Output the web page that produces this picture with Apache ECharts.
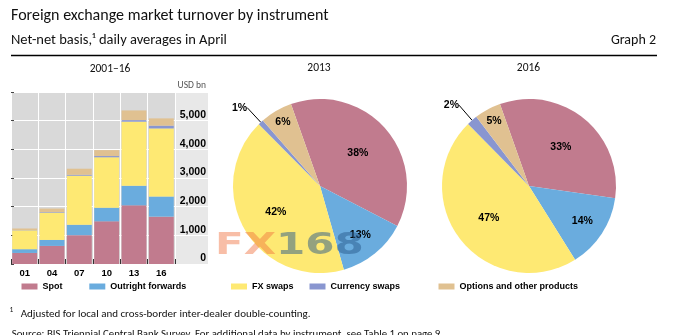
<!DOCTYPE html>
<html><head><meta charset="utf-8">
<script src="https://cdn.jsdelivr.net/npm/echarts@6/dist/echarts.min.js"></script>
<style>html,body{margin:0;padding:0;background:#fff}#c{width:674px;height:335px}</style>
</head><body><div id="c"></div>
<script>
// ---- data ----
const years = ['01', '04', '07', '10', '13', '16'];
const instruments = ['Spot', 'Outright forwards', 'FX swaps', 'Currency swaps', 'Options and other products'];
const spot = [386, 631, 1005, 1489, 2047, 1652];
const forwards = [130, 209, 362, 475, 679, 700];
const fxSwaps = [656, 954, 1714, 1759, 2240, 2378];
const currencySwaps = [7, 21, 31, 43, 54, 96];
const optionsOther = [60, 119, 212, 207, 337, 254];
const share2013 = [38, 13, 42, 1, 6];
const share2016 = [33, 14, 47, 2, 5];
const yMax = 6000;
const yStep = 1000;

// ---- styles ----
const colors = ['#C17B8E', '#6AACDE', '#FEE973', '#8996D0', '#E0C191'];
const SANS = 'Carlito, Lato, sans-serif';
const BOLD = '"Liberation Sans", Arial, sans-serif';
const legendLeft = [21.5, 89.3, 231, 309.5, 438.5];
const pieLabelReach = [1.08, 1.37, 1.1, 1, 1.58];
const barValues = [spot, forwards, fxSwaps, currencySwaps, optionsOther];

const chart = echarts.init(document.getElementById('c'), null, {renderer: 'canvas'});

function pieSeries(shares, cx, cy) {
  return {
    type: 'pie', center: [cx, cy], radius: 87, startAngle: 109.5, clockwise: true,
    avoidLabelOverlap: false, silent: true,
    data: instruments.map((n, i) => ({
      name: n, value: shares[i], itemStyle: {color: colors[i], borderWidth: 0},
      label: i === 3 ? {position: 'outside', distanceToLabelLine: 0} : undefined,
      labelLine: i === 3 ? {show: true, length: 20, length2: 0, smooth: false, lineStyle: {color: '#000', width: 1}} : {show: false}
    })),
    label: {show: true, position: 'inside', formatter: '{c}%', color: '#000',
      fontFamily: BOLD, fontWeight: 'bold', fontSize: 10.5},
    labelLayout: function (p) {
      const k = pieLabelReach[p.dataIndex];
      if (k === 1) return {};
      const lx = p.labelRect.x + p.labelRect.width / 2;
      const ly = p.labelRect.y + p.labelRect.height / 2;
      return {dx: (lx - cx) * (k - 1), dy: (ly - cy) * (k - 1)};
    }
  };
}

const txt = (x, y, text, font, align, extra) => Object.assign({
  type: 'text', x: x, y: y, silent: true,
  style: Object.assign({text: text, font: font, fill: '#111', textAlign: align || 'left', textVerticalAlign: 'middle'}, extra || {})
});

const option = {
  animation: false,
  backgroundColor: '#fff',
  grid: [
    {left: 11, top: 92, width: 164, height: 172, show: true, backgroundColor: '#D9D9D9', borderWidth: 0, containLabel: false, outerBoundsMode: 'none'},
    {left: 175, top: 92, width: 33, height: 172, show: true, backgroundColor: '#E8E8E8', borderWidth: 0, containLabel: false, outerBoundsMode: 'none'}
  ],
  xAxis: [
    {type: 'category', gridIndex: 0, data: years, boundaryGap: true,
      axisLine: {show: false},
      axisTick: {show: true, inside: true, length: 5, lineStyle: {color: '#333', width: 1}},
      axisLabel: {color: '#000', fontFamily: BOLD, fontWeight: 'bold', fontSize: 9.5, margin: 4, interval: 0},
      splitLine: {show: true, lineStyle: {color: '#fff', width: 1}}},
    {type: 'value', gridIndex: 1, show: false, min: 0, max: 1}
  ],
  yAxis: [
    {type: 'value', gridIndex: 0, min: 0, max: yMax, interval: yStep, position: 'left',
      axisLine: {show: false}, axisLabel: {show: false},
      axisTick: {show: true, inside: true, length: 3, lineStyle: {color: '#444'}},
      splitLine: {show: true, lineStyle: {color: '#fff', width: 1}}},
    {type: 'value', gridIndex: 1, min: 0, max: yMax, interval: yStep, position: 'right',
      axisLine: {show: false}, axisTick: {show: false},
      axisLabel: {show: true, inside: true, margin: 2, color: '#000', fontFamily: BOLD, fontWeight: 700, fontSize: 10.5,
        verticalAlign: 'bottom',
        formatter: v => v > 5000 ? '' : v.toLocaleString('en-US')},
      splitLine: {show: true, lineStyle: {color: '#fff', width: 1}}}
  ],
  legend: instruments.map((n, i) => ({
    data: [n], left: legendLeft[i], top: 282, padding: 0, itemGap: 0,
    icon: 'rect', itemWidth: 16, itemHeight: 6, selectedMode: false,
    textStyle: {color: '#000', fontFamily: BOLD, fontWeight: 'bold', fontSize: 9}
  })),
  series: instruments.map((n, i) => ({
    type: 'bar', name: n, stack: 'total', xAxisIndex: 0, yAxisIndex: 0,
    barCategoryGap: '9%', silent: true,
    itemStyle: {color: colors[i], borderWidth: 0},
    data: barValues[i]
  })).concat([pieSeries(share2013, 320, 186), pieSeries(share2016, 529, 186)]),
  graphic: [
    txt(11, 16, 'Foreign exchange market turnover by instrument', '16px ' + SANS),
    txt(11, 40, 'Net-net basis,\u00b9 daily averages in April', '14.5px ' + SANS),
    txt(656, 40, 'Graph 2', '14px ' + SANS, 'right'),
    {type: 'line', silent: true, shape: {x1: 11, y1: 55.5, x2: 657, y2: 55.5}, style: {stroke: '#000', lineWidth: 1.5}},
    txt(110, 69.5, '2001\u201316', '11.5px ' + SANS, 'center'),
    txt(319, 68.5, '2013', '11.5px ' + SANS, 'center'),
    txt(528.5, 68.5, '2016', '11.5px ' + SANS, 'center'),
    txt(206, 86, 'USD bn', '9.5px ' + SANS, 'right', {fill: '#555'}),
    txt(9.5, 310, '1', '7.5px ' + SANS),
    txt(20.7, 314, 'Adjusted for local and cross-border inter-dealer double-counting.', '11px ' + SANS),
    txt(11.7, 334, 'Source: BIS Triennial Central Bank Survey. For additional data by instrument, see Table 1 on page 9.', '10.8px ' + SANS),
    {type: 'text', x: 215, y: 231, z: 100, silent: true, scaleX: 1.4,
      style: {text: '{a|FX}{b|168}', textVerticalAlign: 'top',
        rich: {
          a: {fill: 'rgba(240,110,60,0.45)', fontFamily: '"DejaVu Sans"', fontWeight: 'bold', fontSize: 30},
          b: {fill: 'rgba(40,90,140,0.5)', fontFamily: '"DejaVu Sans"', fontWeight: 'bold', fontSize: 30}
        }}}
  ]
};
chart.setOption(option);
</script>
</body></html>
